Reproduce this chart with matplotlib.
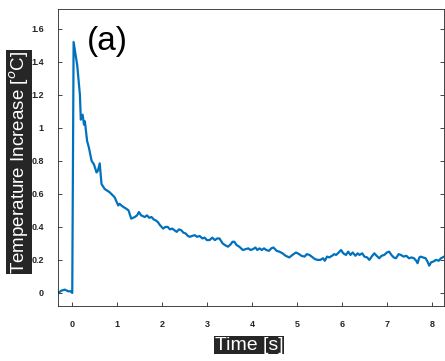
import numpy as np
import matplotlib
matplotlib.use('Agg')
import matplotlib.pyplot as plt

## data: time [s], temperature increase [C]
time_s = [-0.30, -0.23, -0.155, -0.08, -0.03, 0.01, 0.04, 0.12, 0.18, 0.20,
          0.24, 0.27, 0.29, 0.34, 0.38, 0.44, 0.49, 0.55, 0.58, 0.62,
          0.66, 0.73, 0.84, 0.95, 1.03, 1.06, 1.10, 1.15, 1.21, 1.26,
          1.32, 1.36, 1.40, 1.45, 1.49, 1.54, 1.58, 1.62, 1.67, 1.72,
          1.77, 1.82, 1.86, 1.91, 1.96, 2.03, 2.08, 2.13, 2.18, 2.23,
          2.28, 2.33, 2.38, 2.43, 2.48, 2.53, 2.58, 2.62, 2.67, 2.73,
          2.78, 2.84, 2.90, 2.95, 3.00, 3.06, 3.12, 3.18, 3.23, 3.28,
          3.35, 3.40, 3.47, 3.53, 3.57, 3.61, 3.66, 3.72, 3.80, 3.86,
          3.92, 3.97, 4.02, 4.08, 4.12, 4.17, 4.22, 4.27, 4.32, 4.38,
          4.43, 4.48, 4.55, 4.61, 4.68, 4.75, 4.83, 4.90, 4.98, 5.05,
          5.10, 5.17, 5.22, 5.28, 5.35, 5.40, 5.46, 5.52, 5.58, 5.62,
          5.67, 5.72, 5.78, 5.83, 5.87, 5.93, 5.98, 6.03, 6.09, 6.14,
          6.19, 6.24, 6.30, 6.35, 6.39, 6.45, 6.50, 6.56, 6.61, 6.66,
          6.72, 6.77, 6.83, 6.88, 6.94, 7.00, 7.05, 7.10, 7.15, 7.20,
          7.26, 7.31, 7.37, 7.43, 7.49, 7.55, 7.60, 7.65, 7.68, 7.72,
          7.75, 7.80, 7.86, 7.90, 7.94, 7.98, 8.03, 8.09, 8.15, 8.20,
          8.27]
temp_c = [0.00, 0.014, 0.02, 0.01, 0.01, 0.0, 1.52, 1.38, 1.20, 1.05,
          1.08, 1.02, 1.04, 0.92, 0.88, 0.80, 0.78, 0.73, 0.74, 0.785,
          0.66, 0.63, 0.61, 0.58, 0.53, 0.54, 0.53, 0.52, 0.51, 0.50,
          0.45, 0.455, 0.46, 0.47, 0.49, 0.47, 0.465, 0.46, 0.47, 0.455,
          0.46, 0.445, 0.44, 0.43, 0.41, 0.39, 0.40, 0.40, 0.385, 0.39,
          0.38, 0.37, 0.385, 0.38, 0.365, 0.36, 0.345, 0.34, 0.345, 0.35,
          0.34, 0.345, 0.33, 0.335, 0.32, 0.32, 0.335, 0.32, 0.33, 0.33,
          0.30, 0.29, 0.28, 0.295, 0.31, 0.31, 0.29, 0.28, 0.26, 0.265,
          0.27, 0.26, 0.265, 0.275, 0.26, 0.27, 0.26, 0.27, 0.26, 0.255,
          0.27, 0.275, 0.255, 0.25, 0.24, 0.225, 0.215, 0.23, 0.245, 0.235,
          0.225, 0.22, 0.235, 0.23, 0.215, 0.205, 0.20, 0.20, 0.21, 0.195,
          0.22, 0.215, 0.225, 0.235, 0.23, 0.245, 0.26, 0.24, 0.23, 0.25,
          0.23, 0.245, 0.225, 0.24, 0.23, 0.24, 0.22, 0.215, 0.20, 0.22,
          0.24, 0.225, 0.21, 0.225, 0.23, 0.245, 0.25, 0.23, 0.215, 0.21,
          0.235, 0.23, 0.22, 0.225, 0.21, 0.215, 0.21, 0.195, 0.18, 0.215,
          0.22, 0.215, 0.21, 0.19, 0.165, 0.185, 0.19, 0.20, 0.195, 0.21,
          0.22]

x_ticks = [0, 1, 2, 3, 4, 5, 6, 7, 8]
y_ticks = [0, 0.2, 0.4, 0.6, 0.8, 1.0, 1.2, 1.4, 1.6]
y_tick_labels = ['0', '0.2', '0.4', '0.6', '0.8', '1', '1.2', '1.4', '1.6']

plt.rcParams['font.family'] = ['Liberation Sans', 'DejaVu Sans']

fig = plt.figure(figsize=(4.45, 3.61), dpi=100)
ax = fig.add_axes([0.130, 0.152, 0.868, 0.823])

ax.plot(time_s, temp_c, color='#0072BD', linewidth=1.6)

ax.set_xlim(-0.31, 8.27)
ax.set_ylim(-0.08, 1.72)
ax.set_xticks(x_ticks)
ax.set_xticklabels([str(v) for v in x_ticks])
ax.set_yticks(y_ticks)
ax.set_yticklabels(y_tick_labels)
ax.tick_params(direction='in', length=3, width=0.6, colors='#262626',
               labelsize=6.5, top=False, right=True)
ax.tick_params(axis='x', pad=10)
ax.tick_params(axis='y', pad=10)
for lab in ax.get_xticklabels() + ax.get_yticklabels():
    lab.set_fontweight('bold')
for sp in ax.spines.values():
    sp.set_color('#262626')
    sp.set_linewidth(0.6)

## labels drawn white on black, as in the source picture
box = dict(boxstyle='square,pad=0.05', facecolor='#262626', edgecolor='none')
fig.text(249 / 445, 1 - 345 / 361, 'Time [s]', fontsize=14, color='white',
         bbox=box, ha='center', va='center')
fig.text(19 / 445, 1 - 162 / 361, 'Temperature Increase [$^o$C]', fontsize=13.5,
         color='white', bbox=box, rotation=90, ha='center', va='center')

ax.text(0.075, 0.89, '(a)', transform=ax.transAxes, fontsize=24,
        color='black', ha='left', va='center')

fig.savefig('out.png', dpi=100)
